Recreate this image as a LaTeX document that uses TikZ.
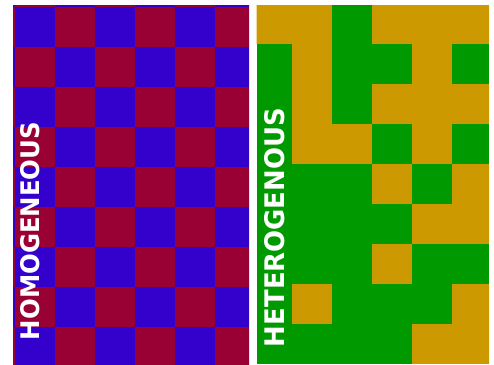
\documentclass[tikz,border=0pt]{standalone}
\usepackage{fontspec}
\setmainfont{DejaVu Sans}
\usepackage{graphicx}
\definecolor{hblue}{HTML}{3300CC}
\definecolor{hred}{HTML}{990033}
\definecolor{hgreen}{HTML}{009900}
\definecolor{hgold}{HTML}{CC9900}
\tikzset{
  label text/.style={text=white, inner sep=0pt, rotate=90, font=\bfseries}
}
\begin{document}
\begin{tikzpicture}[x=1pt,y=-1pt]
\useasboundingbox (0,0) rectangle (494,364);
\fill[white] (0,0) rectangle (494,364);
% homogeneous checkerboard
\begin{scope}
  \clip (13,5) rectangle (249,364);
  \foreach \i in {-1,...,6}{
    \foreach \j in {-1,...,9}{
      \pgfmathtruncatemacro\p{mod(\i+\j+4,2)}
      \ifnum\p=0
        \fill[hblue] ({14.5+40*\i},{6.7+40*\j}) rectangle ++(40,40);
      \else
        \fill[hred] ({14.5+40*\i},{6.7+40*\j}) rectangle ++(40,40);
      \fi
    }
  }
\end{scope}
% heterogeneous pattern
\begin{scope}
  \clip (256.7,5) rectangle (489,364);
  \fill[hgreen] (256.7,5) rectangle (489,364);
  \foreach \c/\r in {0/0,1/0,3/0,4/0,5/0, 1/1,4/1, 1/2,3/2,4/2,5/2, 1/3,2/3,4/3, 3/4,5/4, 4/5,5/5, 3/6, 1/7,5/7, 4/8,5/8}{
    \fill[hgold] ({252.3+40*\c},{4.3+40*\r}) rectangle ++(40,40);
  }
\end{scope}
\node[label text] (homo) at (30.5,231) {\resizebox{218pt}{19pt}{HOMOGENEOUS}};
\node[label text] (hetero) at (275,227.5) {\resizebox{239pt}{20pt}{HETEROGENOUS}};
\end{tikzpicture}
\end{document}
